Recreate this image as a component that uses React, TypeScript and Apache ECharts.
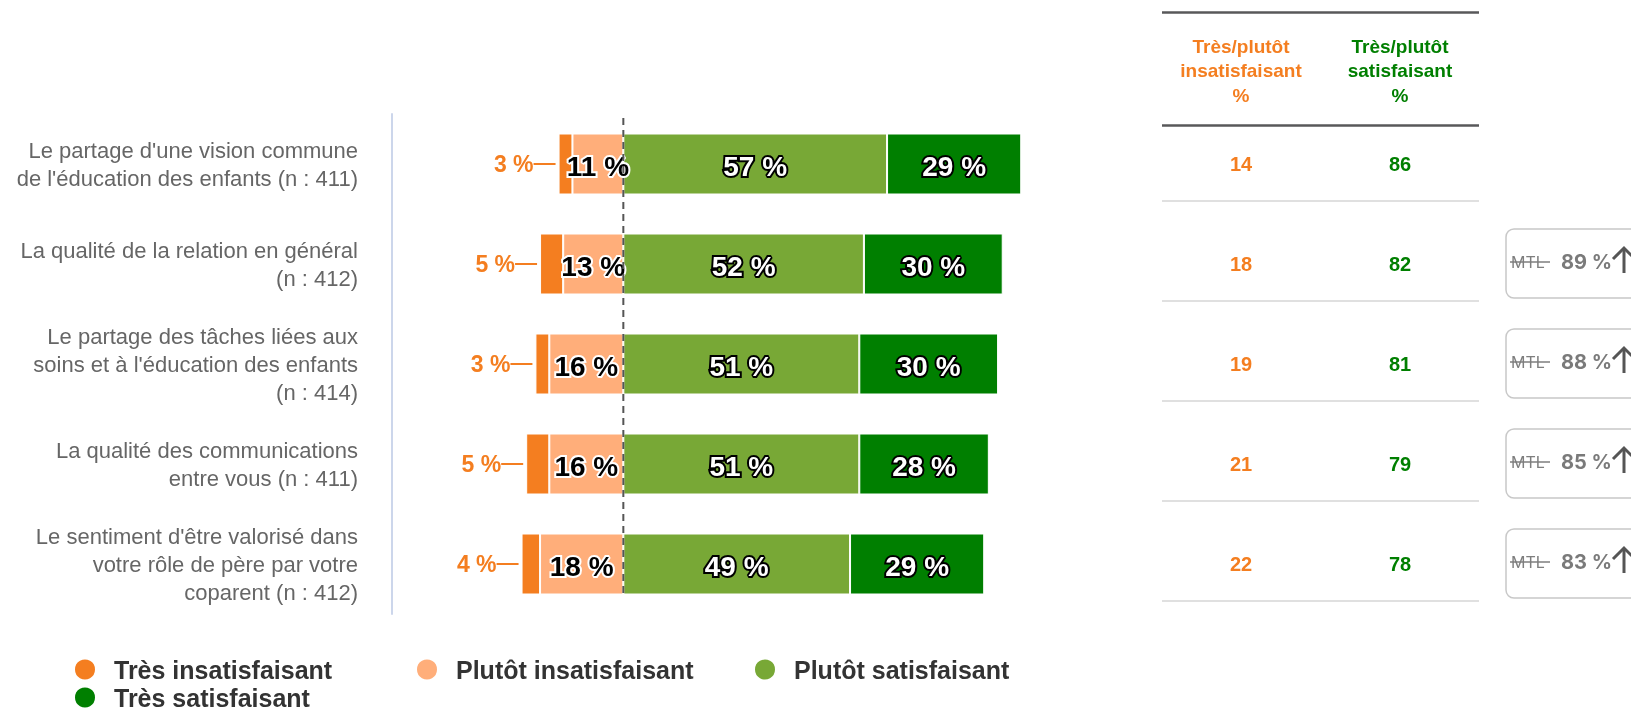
import React, { useEffect, useRef } from 'react';
import * as echarts from 'echarts';

const categories = [
  "Le partage d'une vision commune\nde l'éducation des enfants (n : 411)",
  "La qualité de la relation en général\n(n : 412)",
  "Le partage des tâches liées aux\nsoins et à l'éducation des enfants\n(n : 414)",
  "La qualité des communications\nentre vous (n : 411)",
  "Le sentiment d'être valorisé dans\nvotre rôle de père par votre\ncoparent (n : 412)",
];
const seriesNames = ['Très insatisfaisant', 'Plutôt insatisfaisant', 'Plutôt satisfaisant', 'Très satisfaisant'];
const tresInsatisfaisant = [3, 5, 3, 5, 4];
const plutotInsatisfaisant = [11, 13, 16, 16, 18];
const plutotSatisfaisant = [57, 52, 51, 51, 49];
const tresSatisfaisant = [29, 30, 30, 28, 29];
const totalInsatisfaisant = [14, 18, 19, 21, 22];
const totalSatisfaisant = [86, 82, 81, 79, 78];
const mtlValues: (number | null)[] = [null, 89, 88, 85, 83];
const tableHeaders = ['Très/plutôt\ninsatisfaisant\n%', 'Très/plutôt\nsatisfaisant\n%'];
const mtlLabel = 'MTL';
const xMin = -50;
const xMax = 100;

const C_TI = '#F47E20';
const C_PI = '#FFAE7A';
const C_PS = '#78A836';
const C_TS = '#007F00';
const FONT = '"Liberation Sans", Arial, sans-serif';

export default function App() {
  const ref = useRef<HTMLDivElement>(null);
  useEffect(() => {
    const chart = echarts.init(ref.current!, null, { renderer: 'svg' });
    const pct = (p: any) => Math.abs(p.value) + ' %';
    const darkLabel = {
      show: true, position: 'inside', formatter: pct, fontSize: 28, fontWeight: 'bold',
      color: '#000', textBorderColor: '#fff', textBorderWidth: 4, offset: [0, 2],
    };
    const lightLabel = {
      show: true, position: 'inside', formatter: pct, fontSize: 28, fontWeight: 'bold',
      color: '#fff', textBorderColor: '#000', textBorderWidth: 4, offset: [0, 2],
    };
    const legendBase = {
      icon: 'circle', itemWidth: 22, itemHeight: 22, selectedMode: false,
      textStyle: { fontSize: 25, fontWeight: 'bold', color: '#333', fontFamily: FONT, padding: [0, 0, 0, 13] },
    };
    const option: any = {
      animation: false,
      textStyle: { fontFamily: FONT },
      grid: { left: 392, top: 114, width: 694, height: 500, containLabel: false },
      xAxis: {
        type: 'value', min: xMin, max: xMax, show: false,
        splitLine: { show: false },
      },
      yAxis: {
        type: 'category', data: categories, inverse: true,
        axisLine: { show: true, onZero: false, lineStyle: { color: '#CCD6EB', width: 2 } },
        axisTick: { show: false },
        axisLabel: { fontSize: 22, color: '#666', lineHeight: 28, margin: 34, align: 'right', fontFamily: FONT, padding: [4, 0, 0, 0] },
      },
      legend: [
        { ...legendBase, data: [seriesNames[0]], left: 68, top: 652 },
        { ...legendBase, data: [seriesNames[1]], left: 410, top: 652 },
        { ...legendBase, data: [seriesNames[2]], left: 748, top: 652 },
        { ...legendBase, data: [seriesNames[3]], left: 68, top: 680 },
      ],
      series: [
        {
          name: seriesNames[1], type: 'bar', stack: 'total', barWidth: 61,
          data: plutotInsatisfaisant.map((v) => -v),
          itemStyle: { color: C_PI, borderColor: '#fff', borderWidth: 1 },
          label: darkLabel,
        },
        {
          name: seriesNames[0], type: 'bar', stack: 'total', barWidth: 61,
          data: tresInsatisfaisant.map((v) => -v),
          itemStyle: { color: C_TI, borderColor: '#fff', borderWidth: 1 },
          label: {
            show: true, position: 'left', distance: 3,
            formatter: (p: any) => '{t|' + Math.abs(p.value) + ' %}{l| }',
            rich: {
              t: { color: C_TI, fontSize: 23, fontWeight: 'bold', fontFamily: FONT },
              l: { width: 22, height: 2, backgroundColor: C_TI, fontSize: 2, lineHeight: 2 },
            },
          },
        },
        {
          name: seriesNames[2], type: 'bar', stack: 'total', barWidth: 61,
          data: plutotSatisfaisant,
          itemStyle: { color: C_PS, borderColor: '#fff', borderWidth: 1 },
          label: lightLabel,
        },
        {
          name: seriesNames[3], type: 'bar', stack: 'total', barWidth: 61,
          data: tresSatisfaisant,
          itemStyle: { color: C_TS, borderColor: '#fff', borderWidth: 1 },
          label: lightLabel,
        },
      ],
    };
    chart.setOption(option);

    const rowY = categories.map((c) => chart.convertToPixel({ yAxisIndex: 0 }, c) as number);
    const x0 = chart.convertToPixel({ xAxisIndex: 0 }, 0) as number;
    const colX = [1241, 1400];
    const tableLeft = 1162;
    const tableRight = 1479;
    const g: any[] = [];
    g.push({
      type: 'line', z: 100, silent: true,
      shape: { x1: x0, y1: 118, x2: x0, y2: 596 },
      style: { stroke: '#555', lineWidth: 2, lineDash: [7, 5] },
    });
    g.push({ type: 'line', shape: { x1: tableLeft, y1: 12.5, x2: tableRight, y2: 12.5 }, style: { stroke: '#58585A', lineWidth: 2.5 } });
    g.push({ type: 'line', shape: { x1: tableLeft, y1: 125.5, x2: tableRight, y2: 125.5 }, style: { stroke: '#58585A', lineWidth: 2.5 } });
    tableHeaders.forEach((h, i) => {
      g.push({
        type: 'text', x: colX[i], y: 34,
        style: {
          text: h, align: 'center', verticalAlign: 'top', fill: i === 0 ? C_TI : C_TS,
          fontSize: 19, fontWeight: 'bold', lineHeight: 24.5, fontFamily: FONT,
        },
      });
    });
    rowY.forEach((y, i) => {
      g.push({
        type: 'text', x: colX[0], y,
        style: { text: String(totalInsatisfaisant[i]), align: 'center', verticalAlign: 'middle', fill: C_TI, fontSize: 20, fontWeight: 'bold', fontFamily: FONT },
      });
      g.push({
        type: 'text', x: colX[1], y,
        style: { text: String(totalSatisfaisant[i]), align: 'center', verticalAlign: 'middle', fill: C_TS, fontSize: 20, fontWeight: 'bold', fontFamily: FONT },
      });
      g.push({ type: 'line', shape: { x1: tableLeft, y1: y + 37, x2: tableRight, y2: y + 37 }, style: { stroke: '#D6D6D6', lineWidth: 1.5 } });
      const m = mtlValues[i];
      if (m != null) {
        g.push({ type: 'rect', shape: { x: 1506, y: y - 35, width: 160, height: 69, r: 8 }, style: { fill: 'none', stroke: '#C8C8C8', lineWidth: 1.5 } });
        g.push({ type: 'text', x: 1511, y: y - 2, style: { text: mtlLabel, align: 'left', verticalAlign: 'middle', fill: '#7E7E7E', fontSize: 16, fontFamily: 'Inter' } });
        g.push({ type: 'line', shape: { x1: 1510, y1: y - 2, x2: 1550, y2: y - 2 }, style: { stroke: '#7E7E7E', lineWidth: 1.3 } });
        g.push({ type: 'text', x: 1561, y: y - 2, style: { text: m + ' %', align: 'left', verticalAlign: 'middle', fill: '#7A7A7A', fontSize: 20, fontWeight: 'bold', fontFamily: 'Inter' } });
        g.push({ type: 'line', shape: { x1: 1624, y1: y - 16, x2: 1624, y2: y + 9 }, style: { stroke: '#555', lineWidth: 3 } });
        g.push({ type: 'polyline', shape: { points: [[1613, y - 5], [1624, y - 16], [1635, y - 5]] }, style: { stroke: '#555', lineWidth: 3, fill: 'none' } });
      }
    });
    chart.setOption({ graphic: g });
    return () => chart.dispose();
  }, []);
  return <div ref={ref} style={{ position: 'fixed', left: 0, top: 0, width: 1631, height: 708 }} />;
}
